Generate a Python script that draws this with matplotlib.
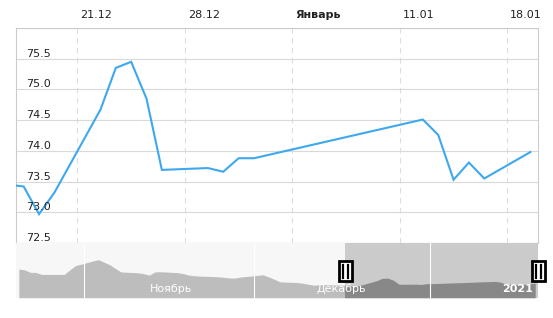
import datetime as dt
import matplotlib
matplotlib.use('Agg')
import matplotlib.pyplot as plt
import matplotlib.dates as mdates
from matplotlib.patches import Rectangle

# CBR USD rate, whole navigator range (main chart shows the tail)
dates = ['2020-10-20', '2020-10-21', '2020-10-22', '2020-10-23', '2020-10-24',
         '2020-10-27', '2020-10-28', '2020-10-29', '2020-10-30', '2020-10-31',
         '2020-11-03', '2020-11-05', '2020-11-06', '2020-11-07', '2020-11-10',
         '2020-11-11', '2020-11-12', '2020-11-13', '2020-11-14', '2020-11-17',
         '2020-11-18', '2020-11-19', '2020-11-20', '2020-11-21', '2020-11-24',
         '2020-11-25', '2020-11-26', '2020-11-27', '2020-11-28', '2020-12-01',
         '2020-12-02', '2020-12-03', '2020-12-04', '2020-12-05', '2020-12-08',
         '2020-12-09', '2020-12-10', '2020-12-11', '2020-12-12', '2020-12-15',
         '2020-12-16', '2020-12-17', '2020-12-18', '2020-12-19', '2020-12-22',
         '2020-12-23', '2020-12-24', '2020-12-25', '2020-12-26', '2020-12-29',
         '2020-12-30', '2020-12-31', '2021-01-01', '2021-01-12', '2021-01-13',
         '2021-01-14', '2021-01-15', '2021-01-16', '2021-01-19']
rates = [78.0, 77.8, 77.1, 77.05, 76.5,
         76.5, 76.5, 77.8, 79.0, 79.4,
         80.7, 79.25, 78.2, 77.2, 76.95,
         76.7, 76.3, 77.2, 77.25, 77.0,
         76.7, 76.3, 76.1, 76.0, 75.85,
         75.7, 75.5, 75.45, 75.75, 76.2,
         76.4, 75.8, 75.15, 74.4, 74.2,
         74.0, 73.7, 73.45, 73.6, 73.5,
         73.45, 73.42, 72.97, 73.32, 74.67,
         75.35, 75.45, 74.85, 73.69, 73.72,
         73.66, 73.88, 73.88, 74.51, 74.26,
         73.53, 73.81, 73.55, 73.98]

tick_dates = ['2020-12-21', '2020-12-28', '2021-01-04', '2021-01-11', '2021-01-18']
tick_labels = ['21.12', '28.12', 'Январь', '11.01', '18.01']
y_ticks = [72.5, 73.0, 73.5, 74.0, 74.5, 75.0, 75.5]
y_labels = ['72.5', '73.0', '73.5', '74.0', '74.5', '75.0', '75.5']

month_starts = ['2020-11-01', '2020-12-01', '2021-01-01']
month_labels = ['Ноябрь', 'Декабрь', '2021']

view_start, view_end = '2020-12-17', '2021-01-20'
nav_start, nav_end = '2020-10-20', '2021-01-20'


def d(s):
    return dt.datetime.strptime(s, '%Y-%m-%d')


x = [d(s) + dt.timedelta(hours=12) for s in dates]

W, H = 553, 318
fig = plt.figure(figsize=(W / 100, H / 100), dpi=100)
plt.rcParams['font.family'] = 'DejaVu Sans'
fs = 8

ax = fig.add_axes([16 / W, 1 - 243 / H, 522 / W, 215 / H])
nav = fig.add_axes([16 / W, 1 - 297.7 / H, 522 / W, 54.7 / H])

# main chart
ax.plot(x, rates, color='#3ea8ef', lw=1.5, zorder=3, solid_joinstyle='miter')
ax.set_xlim(d(view_start), d(view_end))
ax.set_ylim(72.5, 76.0)
ax.set_yticks(y_ticks + [76.0])
ax.set_xticks([d(t) for t in tick_dates])
ax.tick_params(length=0, labelbottom=False, labelleft=False)
ax.grid(axis='y', color='#d9d9d9', lw=0.8)
ax.grid(axis='x', color='#dddddd', lw=0.8, ls=(0, (5, 4)))
for s in ax.spines.values():
    s.set_color('#cccccc')
    s.set_linewidth(0.8)

for v, lab in zip(y_ticks, y_labels):
    ax.annotate(lab, xy=(0, v), xycoords=('axes fraction', 'data'),
                xytext=(10, 0), textcoords='offset pixels',
                ha='left', va='bottom', fontsize=fs, color='#222222')

for t, lab in zip(tick_dates, tick_labels):
    ax.annotate(lab, xy=(d(t), 1), xycoords=('data', 'axes fraction'),
                xytext=(3, 13.5), textcoords='offset pixels',
                ha='left', va='center', fontsize=fs, color='#222222',
                fontweight='bold' if lab == 'Январь' else 'normal',
                annotation_clip=False)

# navigator
nav_lo, nav_hi = 69.9, 85.4
nav.set_facecolor('#f7f7f7')
nav.set_xlim(d(nav_start), d(nav_end))
nav.set_ylim(nav_lo, nav_hi)
nav.axvspan(d(view_start), d(view_end), color='#cbcbcb', lw=0, zorder=1)
nav.fill_between(x, rates, nav_lo, color='#bdbdbd', lw=0, zorder=2)
dark = nav.fill_between(x, rates, nav_lo, color='#888888', lw=0, zorder=3)
clip = Rectangle((mdates.date2num(d(view_start)), nav_lo),
                 mdates.date2num(d(view_end)) - mdates.date2num(d(view_start)),
                 nav_hi - nav_lo, transform=nav.transData)
dark.set_clip_path(clip)
for m, lab in zip(month_starts, month_labels):
    nav.axvline(d(m), color='white', lw=0.8, zorder=4)
    nav.text(d(m) + dt.timedelta(days=15.4), 0.16, lab, transform=nav.get_xaxis_transform(),
             ha='center', va='center', fontsize=fs, color='white', zorder=5,
             fontweight='bold' if lab == '2021' else 'normal')
nav.set_xticks([])
nav.set_yticks([])
for s in nav.spines.values():
    s.set_visible(False)

# navigator handles
hy = H - 271.3
for edge in (view_start, view_end):
    px = nav.transData.transform((mdates.date2num(d(edge)), nav_lo))[0]
    fig.patches.append(Rectangle((px - 6.5, hy - 10), 13, 20, transform=None,
                                 facecolor='white', edgecolor='black', lw=2, zorder=10))
    for off in (-2.5, 2.5):
        fig.lines.append(plt.Line2D([px + off, px + off], [hy - 6.5, hy + 6.5],
                                    transform=None, color='black', lw=1.6, zorder=11))

fig.savefig('out.png', dpi=100)
